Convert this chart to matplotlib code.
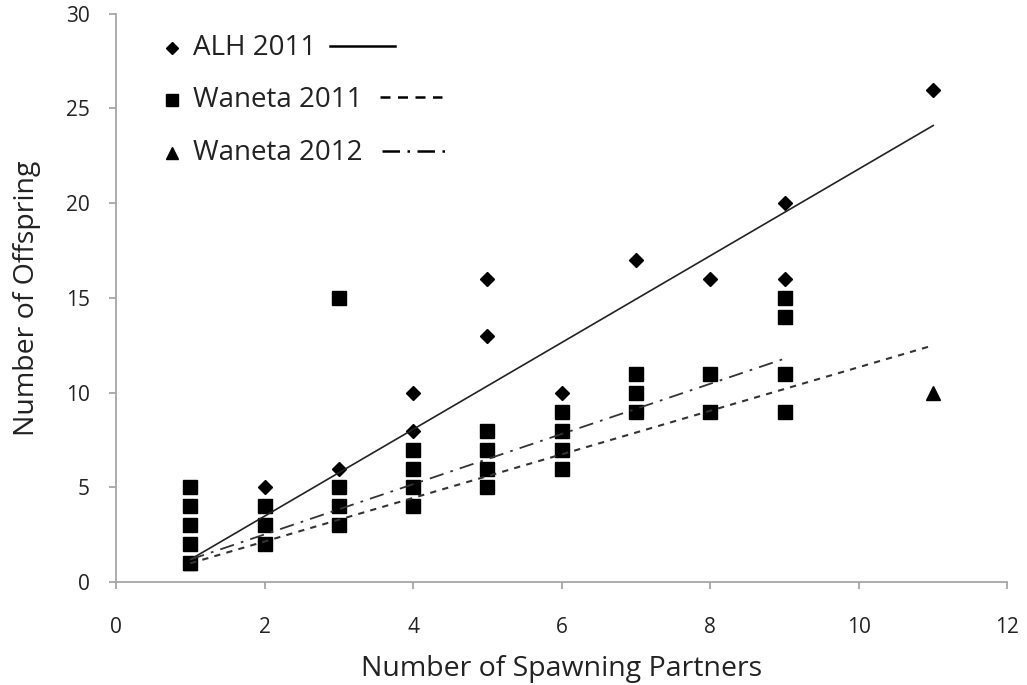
import matplotlib
matplotlib.use("Agg")
import matplotlib.pyplot as plt
from matplotlib.lines import Line2D

plt.rcParams['font.family'] = ['Open Sans', 'DejaVu Sans']

# ALH 2011 (diamonds)
alh_x = [1, 2, 3, 4, 4, 5, 5, 6, 7, 8, 9, 9, 11]
alh_y = [1, 5, 6, 8, 10, 13, 16, 10, 17, 16, 16, 20, 26]

# Waneta 2011 (squares)
w11_x = [1, 1, 1, 1, 1, 2, 2, 2, 3, 3, 3, 3, 4, 4, 4, 4,
         5, 5, 5, 5, 6, 6, 6, 6, 7, 7, 7, 8, 8, 9, 9, 9, 9]
w11_y = [1, 2, 3, 4, 5, 2, 3, 4, 3, 4, 5, 15, 4, 5, 6, 7,
         5, 6, 7, 8, 6, 7, 8, 9, 9, 10, 11, 9, 11, 9, 11, 14, 15]

# Waneta 2012 (triangles)
w12_x = [1, 11]
w12_y = [1, 10]

# trend lines (end points)
alh_trend_x = [1, 11]
alh_trend_y = [1.2, 24.1]
w11_trend_x = [1, 9]
w11_trend_y = [1.2, 11.8]
w12_trend_x = [1, 11]
w12_trend_y = [1.0, 12.5]

fig = plt.figure(figsize=(10.27, 6.85), dpi=100)
ax = fig.add_axes([0.113, 0.150, 0.868, 0.830])

ax.plot(w12_x, w12_y, linestyle='none', marker='^', ms=10, color='black')
ax.plot(w11_x, w11_y, linestyle='none', marker='s', ms=10, color='black')
ax.plot(alh_x, alh_y, linestyle='none', marker='D', ms=7.5, color='black')

ax.plot(alh_trend_x, alh_trend_y, color='#222222', lw=1.2, linestyle='-')
ax.plot(w11_trend_x, w11_trend_y, color='#333333', lw=1.3,
        linestyle=(0, (8, 4, 1.5, 4)))
ax.plot(w12_trend_x, w12_trend_y, color='#333333', lw=1.5,
        linestyle=(0, (3, 3)))

ax.set_xlim(0, 12)
ax.set_ylim(0, 30)
ax.set_xticks(range(0, 13, 2))
ax.set_yticks(range(0, 31, 5))

for s in ['top', 'right']:
    ax.spines[s].set_visible(False)
for s in ['left', 'bottom']:
    ax.spines[s].set_color('#a6a6a6')
    ax.spines[s].set_linewidth(1.3)
ax.tick_params(axis='both', direction='out', length=5, width=1.3,
               color='#a6a6a6', labelsize=15, labelcolor='#222222')
ax.tick_params(axis='x', pad=20)
ax.tick_params(axis='y', pad=14)

ax.set_xlabel('Number of Spawning Partners', fontsize=20.5, color='#222222',
              labelpad=12)
ax.set_ylabel('Number of Offspring', fontsize=20.5, color='#222222',
              labelpad=18)

# legend: marker, label, line sample
leg_labels = ['ALH 2011', 'Waneta 2011', 'Waneta 2012']
leg_markers = ['D', 's', '^']
leg_ms = [6, 9, 8]
leg_styles = ['-', (0, (4, 3)), (0, (7, 3, 1, 3))]
leg_line_x0 = [0.240, 0.296, 0.298]
leg_line_x1 = [0.313, 0.366, 0.371]
leg_y = [0.940, 0.849, 0.755]
for lab, mk, ms, ls, lx0, lx1, ly in zip(leg_labels, leg_markers, leg_ms,
                                         leg_styles, leg_line_x0,
                                         leg_line_x1, leg_y):
    ax.add_line(Line2D([0.063], [ly], transform=ax.transAxes, marker=mk,
                       ms=ms, color='black', linestyle='none',
                       clip_on=False))
    ax.text(0.086, ly, lab, transform=ax.transAxes, fontsize=20,
            color='#222222', va='center', ha='left')
    ax.add_line(Line2D([lx0, lx1], [ly + 0.004, ly + 0.004],
                       transform=ax.transAxes, color='black', lw=1.8,
                       linestyle=ls))

fig.savefig('out.png', dpi=100)
